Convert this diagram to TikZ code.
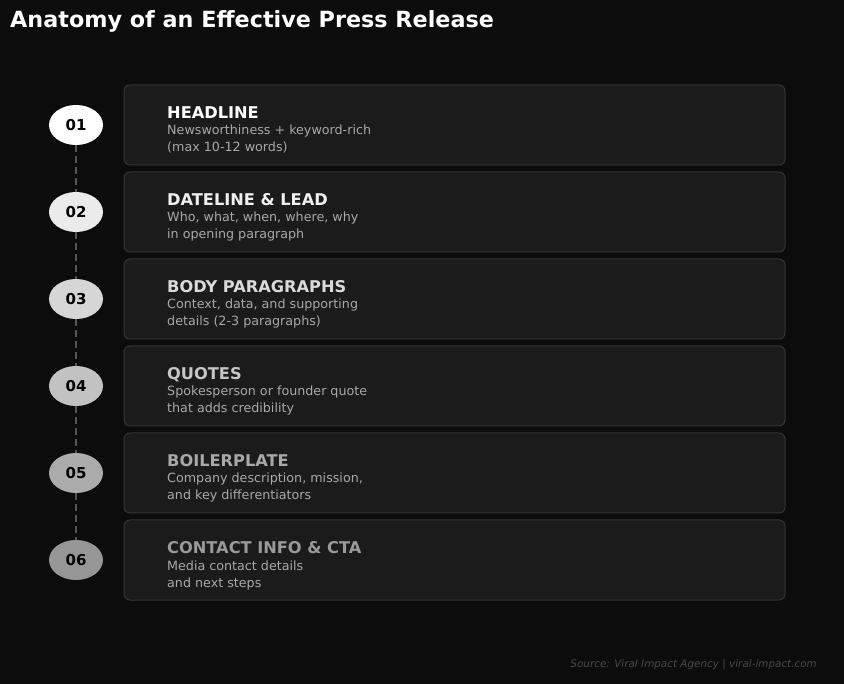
\documentclass[tikz,border=0pt]{standalone}
\usepackage{fontspec}
\setmainfont{DejaVu Sans}
\usetikzlibrary{shapes.geometric}
\definecolor{bg}{HTML}{0C0C0C}
\definecolor{card}{HTML}{1B1B1B}
\definecolor{cardline}{HTML}{343434}
\definecolor{desc}{HTML}{A8A8A8}
\definecolor{dashc}{HTML}{555555}
\begin{document}
\begin{tikzpicture}[x=1pt,y=-1pt,
  cardbox/.style={draw=cardline,fill=card,rounded corners=6pt,line width=1pt},
  badge/.style={ellipse,minimum width=54pt,minimum height=40pt,inner sep=0pt,draw=none,font=\bfseries\fontsize{15}{17}\selectfont,text=black},
  ttl/.style={anchor=base west,font=\bfseries\fontsize{16.2}{19}\selectfont,inner sep=0pt},
  dsc/.style={anchor=base west,font=\fontsize{12.7}{17}\selectfont,text=desc,inner sep=0pt,align=left},
  conn/.style={draw=dashc,line width=1.6pt,dash pattern=on 7pt off 4pt}]
\fill[bg] (0,0) rectangle (844,684);
\useasboundingbox (0,0) rectangle (844,684);
\node[anchor=base west,inner sep=0pt,text=white,font=\bfseries\fontsize{22.3}{26}\selectfont] (title) at (10,28) {Anatomy of an Effective Press Release};
\foreach \i/\num/\bc/\tc/\head/\la/\lb in {
 0/01/FFFFFF/FFFFFF/HEADLINE/Newsworthiness + keyword-rich/(max 10-12 words),
 1/02/EBEBEB/EFEFEF/DATELINE \& LEAD/{Who, what, when, where, why}/in opening paragraph,
 2/03/D6D6D6/DADADA/BODY PARAGRAPHS/{Context, data, and supporting}/details (2-3 paragraphs),
 3/04/C2C2C2/C6C6C6/QUOTES/Spokesperson or founder quote/that adds credibility,
 4/05/ACACAC/A8A8A8/BOILERPLATE/{Company description, mission,}/and key differentiators,
 5/06/969696/9A9A9A/CONTACT INFO \& CTA/Media contact details/and next steps}{
  \pgfmathsetmacro{\yt}{85+87*\i}
  \definecolor{bcol}{HTML}{\bc}
  \definecolor{tcol}{HTML}{\tc}
  \draw[cardbox] (124,\yt) rectangle (785,\yt+80);
  \node[badge,fill=bcol] (b\i) at (76,\yt+40) {\num};
  \node[ttl,text=tcol] (h\i) at (167,\yt+34) {\head};
  \node[dsc] (d\i) at (167,\yt+50) {\la};
  \node[dsc] (e\i) at (167,\yt+67) {\lb};
}
\foreach \a/\b in {0/1,1/2,2/3,3/4,4/5}{
  \draw[conn] (b\a.south) -- (b\b.north);
}
\node[anchor=base east,inner sep=0pt,text=white!25!bg,font=\itshape\fontsize{10.4}{12}\selectfont] (src) at (817,667) {Source: Viral Impact Agency | viral-impact.com};
\end{tikzpicture}
\end{document}
